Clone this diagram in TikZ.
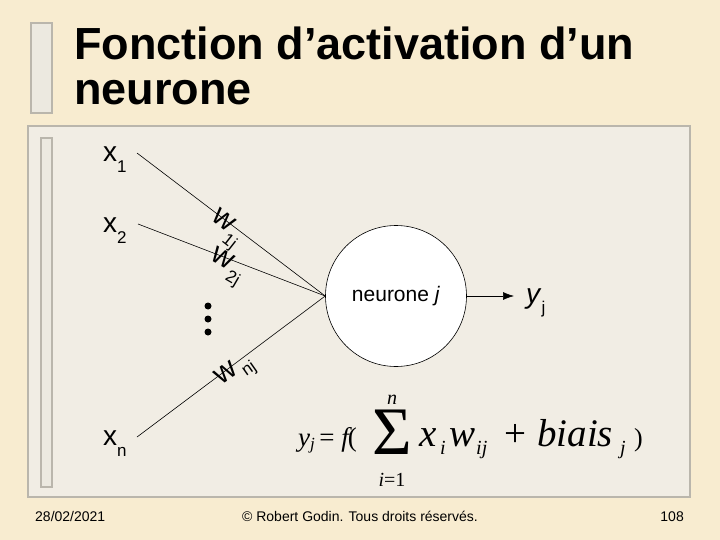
\documentclass[tikz,border=0pt]{standalone}
\usepackage{fontspec}
\setmainfont{Liberation Sans}
\newfontfamily\serifff{Liberation Serif}
\usetikzlibrary{arrows.meta,calc}
\definecolor{bg}{RGB}{248,236,208}
\definecolor{panel}{RGB}{241,237,228}
\definecolor{barfill}{RGB}{236,233,224}
\definecolor{frame}{RGB}{186,182,172}
\newcommand\fsz[1]{\fontsize{#1}{#1}\selectfont}
\newcommand\mysub[2]{\raisebox{-#1pt}{\fsz{17}#2}}
\begin{document}
\begin{tikzpicture}[x=1pt,y=-1pt,
  xlab/.style={inner sep=0pt, anchor=base west, font=\fsz{28}},
  wlab/.style={inner sep=0pt, font=\fsz{30}},
  wsub/.style={inner sep=0pt, font=\fsz{17}},
  dot/.style={circle, fill=black, inner sep=0pt, minimum size=7pt},
  neur/.style={circle, draw=black, line width=0.6pt, fill=white, minimum size=141pt, inner sep=0pt, font=\fsz{21}},
  conn/.style={line width=0.6pt},
  ftxt/.style={inner sep=0pt, anchor=base, font=\fsz{14}},
  fml/.style={inner sep=0pt, anchor=base west, font=\serifff\itshape\fsz{39}},
  fsm/.style={inner sep=0pt, anchor=base west, font=\serifff\itshape\fsz{20}}]
\useasboundingbox (0,0) rectangle (720,540);
\fill[bg] (0,0) rectangle (720,540);
% title bar
\filldraw[fill=barfill, draw=frame, line width=1.5pt] (31,23) rectangle (52,113);
\node[inner sep=0pt, anchor=base west, font=\bfseries\fsz{45}] (t1) at (74,60) {Fonction d’activation d’un};
\node[inner sep=0pt, anchor=base west, font=\bfseries\fsz{45}] (t2) at (74,105) {neurone};
% panel
\filldraw[fill=panel, draw=frame, line width=1.5pt] (28,126) rectangle (690,497);
\filldraw[fill=barfill, draw=frame, line width=1.2pt] (41,138) rectangle (52,487);
% inputs
\node[xlab] (x1) at (103,162) {x\mysub{11}{1}};
\node[xlab] (x2) at (103,233) {x\mysub{11}{2}};
\node[xlab] (xn) at (103,445) {x\mysub{11}{n}};
\coordinate (s1) at (137,153);
\coordinate (s2) at (138,224);
\coordinate (sn) at (137,437);
% neuron
\node[neur] (neuron) at (396,296) {neurone \textit{j}};
\draw[conn] (s1) -- (neuron.west);
\draw[conn] (s2) -- (neuron.west);
\draw[conn] (sn) -- (neuron.west);
% output
\node[inner sep=0pt, anchor=base west, font=\fsz{28}] (yj) at (526,303) {\textit{y}\mysub{10}{j}};
\draw[conn, -{Latex[length=11pt,width=8pt]}] (neuron.east) -- (514,296);
% dots
\node[dot] (d1) at (208,306) {};
\node[dot] (d2) at (208,319) {};
\node[dot] (d3) at (208,332) {};
% weights
\node[wlab, rotate=-38] (w1) at (224,220) {w};
\node[wsub, rotate=-38, anchor=north west] (w1s) at ($(w1.south east)+(1,-2)$) {1j};
\node[wlab, rotate=-30] (w2) at (223,258) {w};
\node[wsub, rotate=-30, anchor=north west] (w2s) at ($(w2.south east)+(2,-2)$) {2j};
\node[wlab, rotate=35] (wn) at (226,373) {w};
\node[wsub, rotate=35, anchor=west] (wns) at ($(wn.south east)+(4,0)$) {nj};
% formula
\node[inner sep=0pt, anchor=base west, font=\serifff\itshape\fsz{27}] (fy) at (298,446) {y\raisebox{-3pt}{\fsz{17}j}\,\upshape =\ \itshape f\kern-1pt\upshape(};
\node[inner sep=0pt, font=\serifff\fsz{68}] (sig) at (392,432) {Σ};
\node[fsm, anchor=base] (sn1) at (392,404) {n};
\node[fsm, anchor=base] (si1) at (392,486) {i\upshape =1};
\node[fml] (fx) at (419,446) {x};
\node[fsm] (fxi) at (440,454) {i};
\node[fml] (fw) at (449,446) {w};
\node[fsm] (fwij) at (476,454) {ij};
\node[inner sep=0pt, anchor=base west, font=\serifff\fsz{39}] (fp) at (504,446) {+};
\node[fml] (fb) at (537,446) {biais};
\node[fsm] (fbj) at (620,454) {j};
\node[inner sep=0pt, anchor=base west, font=\serifff\fsz{26}] (fc) at (634,446) {)};
% footer
\node[ftxt, anchor=base west] (date) at (35,521) {28/02/2021};
\node[ftxt] (copy) at (360,521) {© Robert Godin. Tous droits réservés.};
\node[ftxt, anchor=base east] (page) at (684,521) {108};
\end{tikzpicture}
\end{document}
